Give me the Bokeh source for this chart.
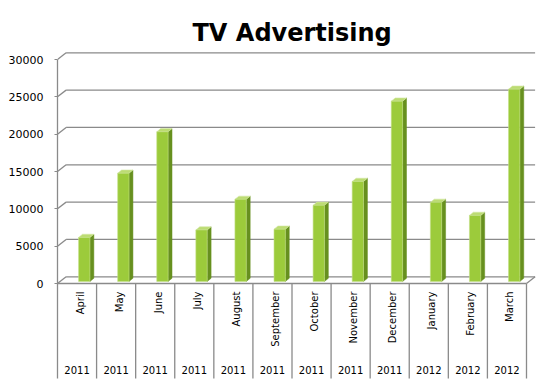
import numpy as np
from bokeh.plotting import figure
from bokeh.models import Range1d, FixedTicker
from bokeh.embed import file_html
from bokeh.resources import INLINE
from bokeh.core.properties import value

# ---------------- data ----------------
months = ["April", "May", "June", "July", "August", "September",
          "October", "November", "December", "January", "February", "March"]
years = ["2011", "2011", "2011", "2011", "2011", "2011",
         "2011", "2011", "2011", "2012", "2012", "2012"]
spend = [5900, 14500, 20050, 6900, 11000, 7000,
         10200, 13400, 24150, 10600, 8850, 25750]
y_ticks = [0, 5000, 10000, 15000, 20000, 25000, 30000]

# ---------------- styling / 3d geometry ----------------
PX_PER_UNIT = 224.0 / 30000.0          # vertical pixels per data unit
WALL_DX, WALL_DY = 0.22, 900           # back-wall offset
BAR_BASE = 270                          # bars sit at mid depth
BAR_L, BAR_W = 0.54, 0.29               # bar front face within category
BAR_DX, BAR_DY = 0.10, 430              # bar depth
MONTH_Y = -8 / PX_PER_UNIT
YEAR_Y = -86 / PX_PER_UNIT
TABLE_BOTTOM = -95 / PX_PER_UNIT
GRID = "#8a8a8a"
FRONT, SIDE, TOP = "#9ccb3b", "#67901f", "#bcdc72"

n = len(months)
xs = np.arange(n, dtype=float)
vals = np.array(spend, dtype=float)
ymin = -96 / PX_PER_UNIT
ymax = 240 / PX_PER_UNIT

p = figure(width=551, height=382, output_backend="svg", toolbar_location=None,
           x_range=Range1d(0, 484 / 39.083), y_range=Range1d(ymin, ymax),
           min_border_left=57, min_border_right=10, min_border_top=43,
           min_border_bottom=3)
p.outline_line_color = None
p.background_fill_color = "white"
p.border_fill_color = "white"
p.xgrid.visible = False
p.ygrid.visible = False
p.xaxis.visible = False

p.title.text = "TV Advertising"
p.title.text_font = "DejaVu Sans"
p.title.text_font_size = "24px"
p.title.text_font_style = "bold"
p.title.text_color = "black"
p.title.align = "left"
p.title.offset = 135
p.title.standoff = -7

ya = p.yaxis[0]
ya.ticker = FixedTicker(ticks=y_ticks)
ya.bounds = (TABLE_BOTTOM, 30000)
ya.axis_line_color = GRID
ya.axis_line_width = 1.3
ya.major_tick_line_color = GRID
ya.major_tick_out = 3
ya.major_tick_in = 0
ya.minor_tick_line_color = None
ya.major_label_text_font = "DejaVu Sans"
ya.major_label_text_font_size = "11px"
ya.major_label_text_color = "black"
ya.major_label_standoff = 11

# back wall gridlines and side diagonals
t = np.array(y_ticks, dtype=float)
p.segment(x0=np.full(len(t), WALL_DX), y0=t + WALL_DY,
          x1=np.full(len(t), n + WALL_DX), y1=t + WALL_DY,
          line_color=GRID, line_width=1.3)
p.segment(x0=np.zeros(len(t)), y0=t, x1=np.full(len(t), WALL_DX), y1=t + WALL_DY,
          line_color=GRID, line_width=1.3)
# floor front edge and right diagonal
p.segment(x0=[0], y0=[0], x1=[n], y1=[0], line_color=GRID, line_width=1.3)
p.segment(x0=[n], y0=[0], x1=[n + WALL_DX], y1=[WALL_DY], line_color=GRID, line_width=1.3)

# category table separators
sep = np.arange(1, n + 1, dtype=float)
p.segment(x0=sep, y0=np.zeros(n), x1=sep, y1=np.full(n, TABLE_BOTTOM),
          line_color=GRID, line_width=1.3)

# bars
left = xs + BAR_L
right = left + BAR_W
top = vals + BAR_BASE
side_x = [[r, r + BAR_DX, r + BAR_DX, r] for r in right]
side_y = [[BAR_BASE, BAR_BASE + BAR_DY, tp + BAR_DY, tp] for tp in top]
top_x = [[l, r, r + BAR_DX, l + BAR_DX] for l, r in zip(left, right)]
top_y = [[tp, tp, tp + BAR_DY, tp + BAR_DY] for tp in top]
p.patches(side_x, side_y, fill_color=SIDE, line_color=SIDE, line_width=0.5)
p.patches(top_x, top_y, fill_color=TOP, line_color="#d3e8a6", line_width=0.6)
p.quad(left=left, right=right, bottom=np.full(n, BAR_BASE), top=top,
       fill_color=FRONT, line_color="#c3df86", line_width=0.6)

# category labels
p.text(x=xs + 0.5, y=np.full(n, MONTH_Y), text=months, angle=np.pi / 2,
       text_align="right", text_baseline="middle", x_offset=3,
       text_font=value("DejaVu Sans"), text_font_size="10px", text_color="black")
p.text(x=xs + 0.5, y=np.full(n, YEAR_Y), text=years,
       text_align="center", text_baseline="middle",
       text_font=value("DejaVu Sans"), text_font_size="10px", text_color="black")

open("out.html", "w").write(file_html(p, INLINE))
